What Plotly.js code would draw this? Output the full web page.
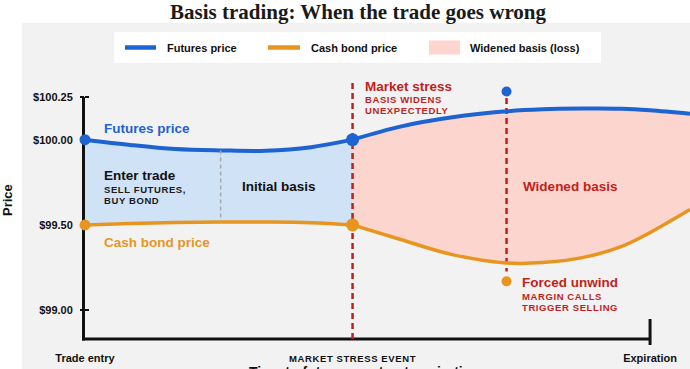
<!DOCTYPE html>
<html>
<head>
<meta charset="utf-8">
<script src="https://cdn.plot.ly/plotly-3.0.1.min.js"></script>
<style>
html,body{margin:0;padding:0;background:#fff;}
#chart{width:690px;height:369px;}
</style>
</head>
<body>
<div id="chart"></div>
<script>
// ---------------- data ----------------
const timeLeft      = [0, 8, 16, 24, 32, 40, 47.35];
const futuresLeft   = [100.000, 99.969, 99.945, 99.937, 99.935, 99.956, 100.000];
const cashLeft      = [99.500, 99.508, 99.514, 99.517, 99.517, 99.513, 99.500];
const timeRight     = [47.35, 56, 65, 74.6, 81, 88, 95, 100, 107.07];
const futuresRight  = [100.000, 100.078, 100.131, 100.166, 100.178, 100.182, 100.181, 100.172, 100.152];
const cashRight     = [99.500, 99.413, 99.326, 99.277, 99.279, 99.308, 99.374, 99.455, 99.590];
const eventTimes    = [0, 47.35, 74.6];          // trade entry, market stress, forced unwind
const futuresDots   = [100.00, 100.00, 100.282];
const cashDots      = [99.50, 99.50, 99.169];
const unwindLine    = [100.245, 99.227];
const basisSplitIdx = 3;                         // index of the "initial basis" divider in timeLeft
const xTickVals     = [0, 47.35, 100];
const xTickText     = ['Trade entry', '<span style="font-size:9.5px;letter-spacing:0.6px">MARKET STRESS EVENT</span>', 'Expiration'];
const yTickVals     = [99.00, 99.50, 100.00, 100.25];
const yTickText     = ['$99.00', '$99.50', '$100.00', '$100.25'];
const legendLabels  = ['Futures price', 'Cash bond price', 'Widened basis (loss)'];

// ---------------- style ----------------
const BLUE = '#1d63d2', ORANGE = '#e8951f', RED = '#c21f1d', INK = '#111111';
const FILL_BLUE = '#cfe2f6', FILL_PINK = '#fdd5cf';
const SANS = 'Arial, "Liberation Sans", sans-serif';
const X_MIN = 0, X_MAX = timeRight[timeRight.length - 1];
const Y_MIN = 98.831, Y_MAX = 100.344;
const M = {l: 85, r: 0, t: 81, b: 30};
const W = 690, H = 369;
const PW = W - M.l - M.r, PH = H - M.t - M.b;

// pixel helpers for label placement
const X = px => X_MIN + (px - M.l) / PW * (X_MAX - X_MIN);
const Y = py => Y_MAX - (py - M.t) / PH * (Y_MAX - Y_MIN);
const PX = px => (px - M.l) / PW;
const PY = py => (H - M.b - py) / PH;

const sp = {shape: 'spline', smoothing: 1};
const base = {type: 'scatter', hoverinfo: 'skip', showlegend: false};

const traces = [
  // fills
  Object.assign({}, base, {x: timeLeft, y: cashLeft, mode: 'lines', line: Object.assign({width: 0}, sp)}),
  Object.assign({}, base, {x: timeLeft, y: futuresLeft, mode: 'lines', line: Object.assign({width: 0}, sp), fill: 'tonexty', fillcolor: FILL_BLUE}),
  Object.assign({}, base, {x: timeRight, y: cashRight, mode: 'lines', line: Object.assign({width: 0}, sp)}),
  Object.assign({}, base, {x: timeRight, y: futuresRight, mode: 'lines', line: Object.assign({width: 0}, sp), fill: 'tonexty', fillcolor: FILL_PINK}),
  // grey divider (also carries the inside-tick axis)
  Object.assign({}, base, {x: [timeLeft[basisSplitIdx], timeLeft[basisSplitIdx]], y: [futuresLeft[basisSplitIdx], cashLeft[basisSplitIdx]], mode: 'lines', yaxis: 'y2', line: {color: '#a9a9a9', width: 1.5, dash: '4px,3px'}}),
  // red event lines
  Object.assign({}, base, {x: [eventTimes[1], eventTimes[1]], y: [Y_MIN, Y_MAX], mode: 'lines', line: {color: RED, width: 2.5, dash: '6px,4px'}}),
  Object.assign({}, base, {x: [eventTimes[2], eventTimes[2]], y: unwindLine, mode: 'lines', line: {color: RED, width: 2.5, dash: '6px,4px'}}),
  // price curves
  Object.assign({}, base, {x: timeLeft, y: cashLeft, mode: 'lines', line: Object.assign({width: 3.5, color: ORANGE}, sp)}),
  Object.assign({}, base, {x: timeRight, y: cashRight, mode: 'lines', line: Object.assign({width: 3.5, color: ORANGE}, sp)}),
  Object.assign({}, base, {x: timeLeft, y: futuresLeft, mode: 'lines', line: Object.assign({width: 4, color: BLUE}, sp)}),
  Object.assign({}, base, {x: timeRight, y: futuresRight, mode: 'lines', line: Object.assign({width: 4, color: BLUE}, sp)}),
  // event dots
  Object.assign({}, base, {x: eventTimes, y: futuresDots, mode: 'markers', cliponaxis: false, marker: {color: BLUE, opacity: 1, size: [11, 13, 10], line: {width: 0}}}),
  Object.assign({}, base, {x: eventTimes, y: cashDots, mode: 'markers', cliponaxis: false, marker: {color: ORANGE, opacity: 1, size: [11, 13, 10], line: {width: 0}}})
];

function txt(text, px, py, size, color, extra) {
  return Object.assign({
    text: text, xref: 'x', yref: 'y', x: X(px), y: Y(py), xanchor: 'left', yanchor: 'middle',
    showarrow: false, font: {family: SANS, size: size, color: color, weight: 700}
  }, extra || {});
}
function ptxt(text, px, py, size, color, extra) {
  return Object.assign({
    text: text, xref: 'paper', yref: 'paper', x: PX(px), y: PY(py), xanchor: 'left', yanchor: 'middle',
    showarrow: false, font: {family: SANS, size: size, color: color, weight: 700}
  }, extra || {});
}
const cap = s => '<span style="letter-spacing:0.6px">' + s + '</span>';

const annotations = [
  txt('Futures price', 102, 128, 13.5, BLUE),
  txt('Cash bond price', 102, 242, 13.5, ORANGE),
  txt('Enter trade', 102, 175, 13.5, INK),
  txt(cap('SELL FUTURES,'), 102, 189, 9.5, '#1a1a1a'),
  txt(cap('BUY BOND'), 102, 200, 9.5, '#1a1a1a'),
  txt('Initial basis', 240, 186, 13.5, INK),
  txt('Market stress', 363, 86, 13.5, RED),
  txt(cap('BASIS WIDENS'), 363, 99.5, 9.5, RED),
  txt(cap('UNEXPECTEDLY'), 363, 110.7, 9.5, RED),
  txt('Widened basis', 521, 186, 13.5, RED),
  txt('Forced unwind', 520, 282.5, 13.5, RED),
  txt(cap('MARGIN CALLS'), 520, 296, 9.5, RED),
  txt(cap('TRIGGER SELLING'), 520, 307, 9.5, RED),
  ptxt('Price', 7, 200, 13, INK, {xanchor: 'center', textangle: -90}),
  ptxt('Time to futures contract expiration', 364, 362, 14, INK, {xanchor: 'center', yanchor: 'top'}),
  ptxt(legendLabels[0], 165, 48, 11, INK),
  ptxt(legendLabels[1], 309, 48, 11, INK),
  ptxt(legendLabels[2], 468, 48, 11, INK)
];

const xEnd = (xTickVals[2] - X_MIN) / (X_MAX - X_MIN);
const AX = PX(83.5);   // axis line centre, just left of the plotting area
const shapes = [
  // grey panel and legend box
  {type: 'rect', xref: 'paper', yref: 'paper', x0: PX(22), x1: PX(700), y0: PY(380), y1: PY(23), fillcolor: '#f2f2f2', line: {width: 0}, layer: 'below'},
  {type: 'rect', xref: 'paper', yref: 'paper', x0: PX(114), x1: PX(601), y0: PY(63), y1: PY(32), fillcolor: '#ffffff', line: {width: 0}, layer: 'below'},
  {type: 'line', xref: 'paper', yref: 'paper', x0: PX(125), x1: PX(156), y0: PY(47.5), y1: PY(47.5), line: {color: BLUE, width: 4.5}, layer: 'below'},
  {type: 'line', xref: 'paper', yref: 'paper', x0: PX(268), x1: PX(300), y0: PY(47.5), y1: PY(47.5), line: {color: ORANGE, width: 4.5}, layer: 'below'},
  {type: 'rect', xref: 'paper', yref: 'paper', x0: PX(429), x1: PX(460), y0: PY(54.5), y1: PY(40.5), fillcolor: FILL_PINK, line: {width: 0}, layer: 'below'},
  // axes lines (below the traces so the event dots sit on top)
  {type: 'line', xref: 'paper', yref: 'paper', x0: AX, x1: AX, y0: PY(340.5), y1: (yTickVals[3] - Y_MIN) / (Y_MAX - Y_MIN), line: {color: INK, width: 3}, layer: 'below'},
  {type: 'line', xref: 'paper', yref: 'paper', x0: PX(82), x1: xEnd, y0: 0, y1: 0, line: {color: INK, width: 3}, layer: 'below'},
  {type: 'line', xref: 'paper', yref: 'paper', x0: xEnd, x1: xEnd, y0: PY(345), y1: PY(319), line: {color: INK, width: 3}, layer: 'below'}
];

const layout = {
  width: W, height: H,
  margin: M,
  paper_bgcolor: '#ffffff',
  plot_bgcolor: 'rgba(0,0,0,0)',
  showlegend: false,
  title: {
    text: 'Basis trading: When the trade goes wrong',
    font: {family: '"Liberation Serif", "Times New Roman", serif', size: 21, weight: 700, color: '#1a1a1a'},
    xref: 'container', yref: 'container', x: 358 / W, xanchor: 'center', y: 1 - 12 / H, yanchor: 'middle'
  },
  xaxis: {
    range: [X_MIN, X_MAX], fixedrange: true,
    showline: false, showgrid: false, zeroline: false, ticks: '',
    tickvals: xTickVals, ticktext: xTickText, ticklabelstandoff: 11,
    tickfont: {family: SANS, size: 11, color: INK, weight: 700}
  },
  yaxis: {
    range: [Y_MIN, Y_MAX], fixedrange: true, layer: 'below traces',
    showline: false, showgrid: false, zeroline: false,
    tickvals: yTickVals, ticktext: yTickText,
    ticks: 'outside', ticklen: 4, tickwidth: 2.5, tickcolor: INK, ticklabelstandoff: 5,
    tickfont: {family: SANS, size: 11, color: INK, weight: 700}
  },
  yaxis2: {
    overlaying: 'y', side: 'left', range: [Y_MIN, Y_MAX], fixedrange: true, layer: 'below traces',
    showline: false, showgrid: false, zeroline: false, showticklabels: false,
    tickvals: yTickVals, ticks: 'inside', ticklen: 4, tickwidth: 2.5, tickcolor: INK
  },
  annotations: annotations,
  shapes: shapes
};

Plotly.newPlot('chart', traces, layout, {displayModeBar: false, staticPlot: true});
</script>
</body>
</html>
